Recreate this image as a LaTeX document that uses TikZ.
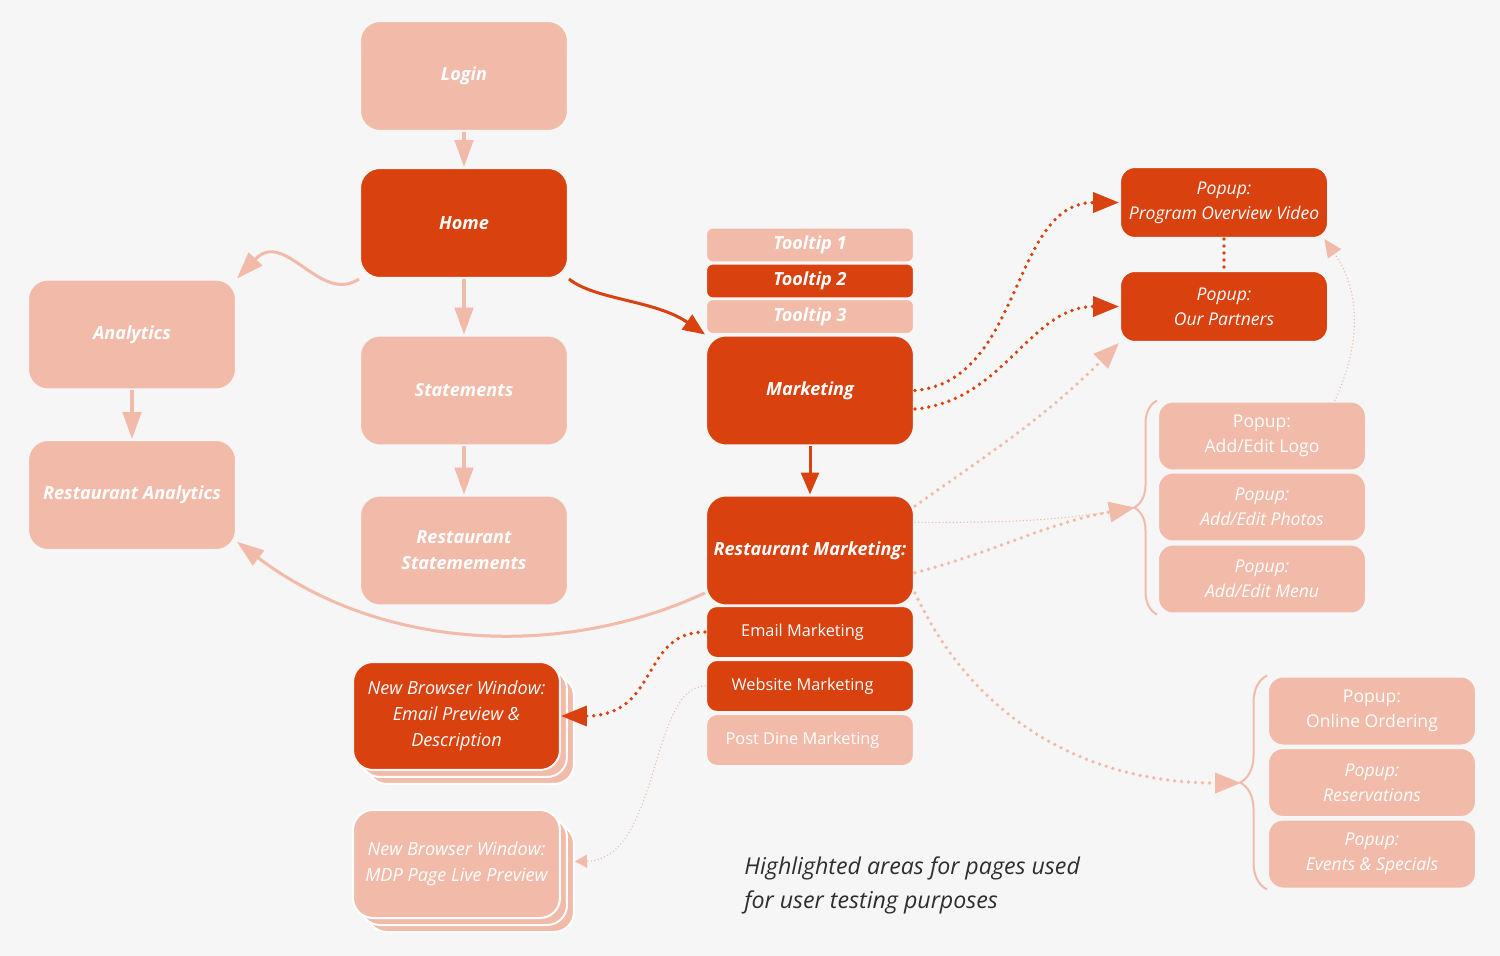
\documentclass[tikz,border=0pt]{standalone}
\usepackage{fontspec}
\setmainfont{Open Sans}
\usetikzlibrary{arrows.meta,decorations.pathreplacing}

\definecolor{deep}{HTML}{D9410F}
\definecolor{soft}{HTML}{F2BBA9}
\definecolor{paper}{HTML}{F6F6F6}
\definecolor{ink}{HTML}{2E2E2E}

\begin{document}
\begin{tikzpicture}[x=0.02cm, y=-0.02cm,
    box/.style={rectangle, inner sep=0pt, align=center, text=white, draw=paper, line width=0.04cm},
    pagebox/.style={box, rounded corners=0.4cm, minimum width=4.16cm, minimum height=2.2cm, font=\fontsize{10.3}{14.7}\selectfont\bfseries\itshape},
    tipbox/.style={box, rounded corners=0.14cm, minimum width=4.16cm, minimum height=0.7cm, font=\fontsize{10.3}{12}\selectfont\bfseries\itshape},
    subbox/.style={box, rounded corners=0.22cm, minimum width=4.16cm, minimum height=1.04cm, font=\fontsize{9.3}{11}\selectfont},
    popbox/.style={box, rounded corners=0.3cm, minimum width=4.16cm, minimum height=1.42cm, font=\fontsize{10}{14.2}\selectfont\itshape},
    stackbox/.style={popbox, minimum height=1.38cm},
    upfont/.style={font=\fontsize{10}{14.2}\selectfont},
    winbox/.style={box, rounded corners=0.4cm, minimum width=4.14cm, minimum height=2.16cm, font=\fontsize{10.3}{14.7}\selectfont\itshape},
    backbox/.style={winbox, fill=soft, draw=white},
    hotbox/.style={fill=deep},
    coldbox/.style={fill=soft},
    bigtip/.style={-{Triangle[width=0.4cm,length=0.52cm]}},
    smalltip/.style={-{Triangle[width=0.37cm,length=0.54cm]}},
    softline/.style={draw=soft, line width=0.07cm, smalltip},
    deepline/.style={draw=deep, line width=0.06cm, -{Triangle[width=0.36cm,length=0.44cm]}},
    deepdots/.style={draw=deep, line width=0.075cm, line cap=round, dash pattern=on 0pt off 0.14cm, bigtip},
    softdots/.style={draw=soft, line width=0.075cm, line cap=round, dash pattern=on 0pt off 0.14cm, bigtip},
    faintdots/.style={draw=soft, line width=0.03cm, line cap=round, dash pattern=on 0pt off 0.07cm},
    bracket/.style={draw=soft, line width=0.04cm, decorate, decoration={brace, amplitude=#1}},
]

    \fill[paper] (0,0) rectangle (1500,956);
    \useasboundingbox (0,0) rectangle (1500,956);

    % Home column
    \node[pagebox, coldbox] (Login) at (464,76) {Login};
    \node[pagebox, hotbox] (Home) at (464,223) {Home};
    \node[pagebox, coldbox] (Statements) at (464,390.5) {Statements};
    \node[pagebox, coldbox] (RestStatements) at (464,550.5) {Restaurant\\Statemements};
    \draw[softline] (Login) -- (Home);
    \draw[softline] (Home) -- (Statements);
    \draw[softline] (Statements) -- (RestStatements);

    % Analytics column
    \node[pagebox, coldbox] (Analytics) at (132,334.5) {Analytics};
    \node[pagebox, coldbox] (RestAnalytics) at (132,495) {Restaurant Analytics};
    \draw[softline] (Analytics) -- (RestAnalytics);
    \draw[softline, line width=0.06cm] (Home.south west) .. controls (320,305) and (285,228) .. (Analytics.north east);

    % Marketing column
    \node[tipbox, coldbox] (Tip1) at (810,245) {Tooltip 1};
    \node[tipbox, hotbox] (Tip2) at (810,281) {Tooltip 2};
    \node[tipbox, coldbox] (Tip3) at (810,316.5) {Tooltip 3};
    \node[pagebox, hotbox] (Marketing) at (810,390.5) {Marketing};
    \node[pagebox, hotbox] (RestMarketing) at (810,550.5) {Restaurant Marketing:};
    \node[subbox, hotbox] (Email) at (810,632) {Email Marketing\hspace*{0.3cm}};
    \node[subbox, hotbox] (Website) at (810,686) {Website Marketing\hspace*{0.3cm}};
    \node[subbox, coldbox] (PostDine) at (810,740) {Post Dine Marketing\hspace*{0.3cm}};
    \draw[deepline] (Home.south east) .. controls (595,300) and (655,300) .. (Marketing.north west);
    \draw[deepline] (Marketing) -- (RestMarketing);
    \draw[softline, line width=0.06cm] (RestMarketing.202) .. controls (560,660) and (380,650) .. (RestAnalytics.-24);

    % Browser windows
    \node[backbox] (EmailBack2) at (470.5,730) {};
    \node[backbox] (EmailBack1) at (463.5,723) {};
    \node[winbox, hotbox] (EmailWin) at (456.5,716) {New Browser Window:\\Email Preview \&\\Description};
    \node[backbox] (PreviewBack2) at (470.5,878) {};
    \node[backbox] (PreviewBack1) at (463.5,871) {};
    \node[winbox, coldbox, draw=white] (PreviewWin) at (456.5,864) {New Browser Window:\\MDP Page Live Preview};
    \draw[deepdots] (Email.west) .. controls (640,632) and (660,716) .. (EmailWin.east);
    \draw[faintdots, -{Triangle[width=0.26cm,length=0.24cm]}] (Website.west) .. controls (650,686) and (660,860) .. (PreviewBack2.9);

    % Popups for Marketing
    \node[popbox, hotbox] (Video) at (1224,202.5) {Popup:\\Program Overview Video};
    \node[popbox, hotbox] (Partners) at (1224,306.5) {Popup:\\Our Partners};
    \draw[deepdots, -] (Video) -- (Partners);
    \draw[deepdots] (Marketing.east) to[out=5,in=180] (Video.west);
    \draw[deepdots] (Marketing.-10) to[out=5,in=180] (Partners.west);
    \draw[softdots] (RestMarketing.23) to[out=35,in=225] (Partners.south west);

    % Popups for Restaurant Marketing
    \node[stackbox, coldbox, upfont] (Logo) at (1262,436) {Popup:\\Add/Edit Logo};
    \node[stackbox, coldbox] (Photos) at (1262,507) {Popup:\\Add/Edit Photos};
    \node[stackbox, coldbox] (Menu) at (1262,579) {Popup:\\Add/Edit Menu};
    \draw[bracket=0.46cm] (Menu.south west) -- (Logo.north west);
    \coordinate (EditBrace) at (1135,507.5);
    \draw[faintdots] (RestMarketing.15) to[out=0,in=190] (EditBrace);
    \draw[softdots] (RestMarketing.-12) to[out=15,in=190] (EditBrace);
    \draw[faintdots, -{Triangle[width=0.32cm,length=0.36cm]}] (Logo.26) to[out=65,in=-55] (Video.-20);

    \node[stackbox, coldbox, upfont] (Ordering) at (1372,711) {Popup:\\Online Ordering};
    \node[stackbox, coldbox] (Reservations) at (1372,782.5) {Popup:\\Reservations};
    \node[stackbox, coldbox] (Specials) at (1372,854) {Popup:\\Events \& Specials};
    \draw[bracket=0.54cm] (Specials.south west) -- (Ordering.north west);
    \coordinate (OrderBrace) at (1241,783);
    \draw[softdots] (RestMarketing.-22) to[out=-65,in=180] (OrderBrace);

    % Note
    \node[font=\fontsize{13.2}{19.3}\selectfont\itshape, text=ink, align=left, anchor=north west, inner sep=0pt] (note) at (744,856) {Highlighted areas for pages used\\for user testing purposes};

\end{tikzpicture}
\end{document}
